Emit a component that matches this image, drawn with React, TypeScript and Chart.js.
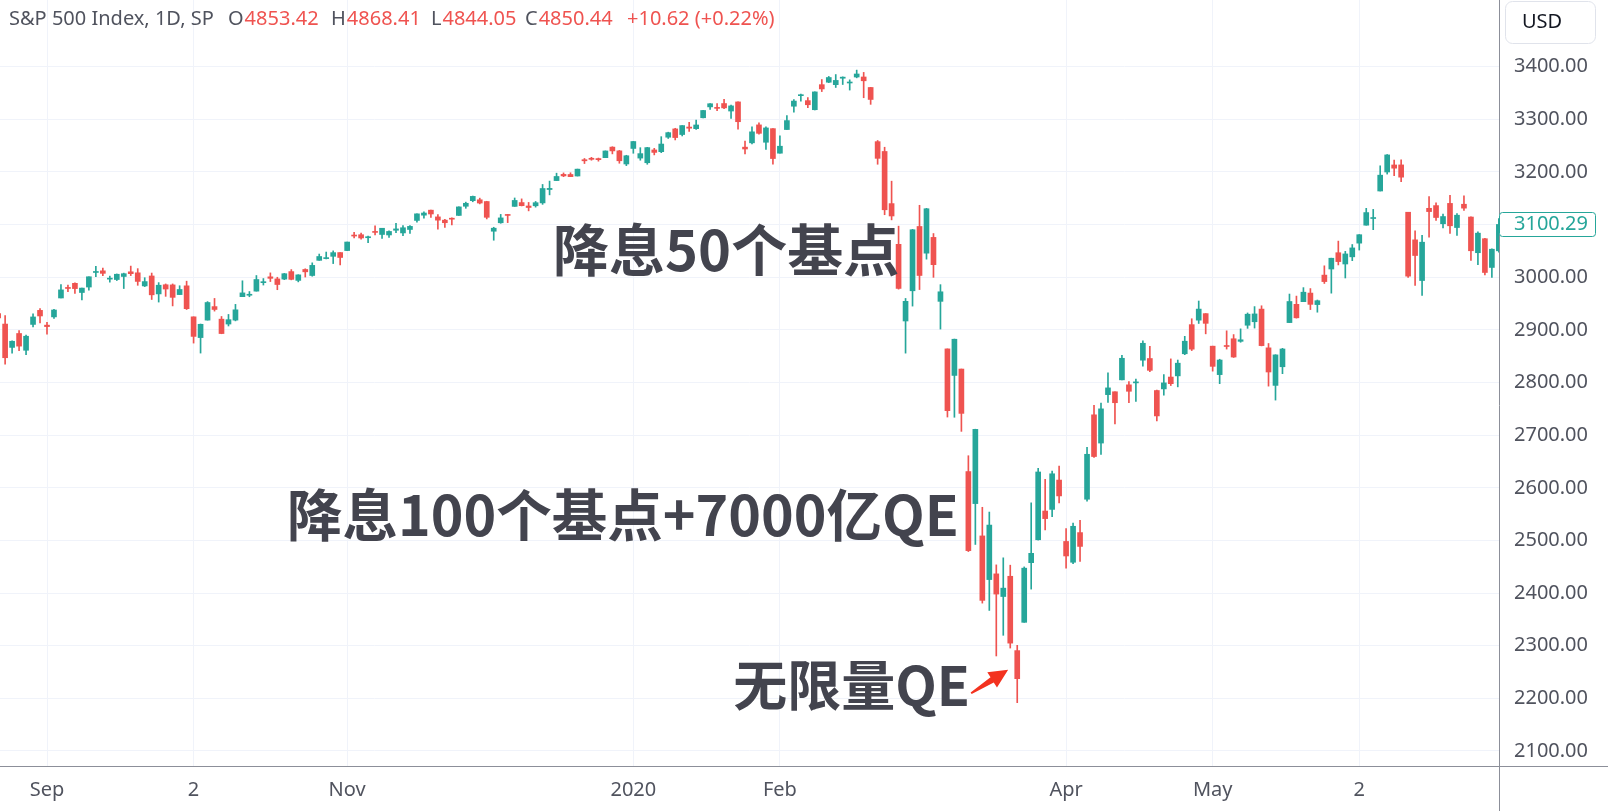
import React, { useEffect, useRef } from 'react';
import { Chart, registerables } from 'chart.js';

Chart.register(...registerables);

// ---------- data ----------
const sessionMonths = ['2019-08', '2019-09', '2019-10', '2019-11', '2019-12', '2020-01', '2020-02', '2020-03', '2020-04', '2020-05', '2020-06'];
const sessionDays = [
  [22, 23, 26, 27, 28, 29, 30],
  [3, 4, 5, 6, 9, 10, 11, 12, 13, 16, 17, 18, 19, 20, 23, 24, 25, 26, 27, 30],
  [1, 2, 3, 4, 7, 8, 9, 10, 11, 14, 15, 16, 17, 18, 21, 22, 23, 24, 25, 28, 29, 30, 31],
  [1, 4, 5, 6, 7, 8, 11, 12, 13, 14, 15, 18, 19, 20, 21, 22, 25, 26, 27, 29],
  [2, 3, 4, 5, 6, 9, 10, 11, 12, 13, 16, 17, 18, 19, 20, 23, 24, 26, 27, 30, 31],
  [2, 3, 6, 7, 8, 9, 10, 13, 14, 15, 16, 17, 21, 22, 23, 24, 27, 28, 29, 30, 31],
  [3, 4, 5, 6, 7, 10, 11, 12, 13, 14, 18, 19, 20, 21, 24, 25, 26, 27, 28],
  [2, 3, 4, 5, 6, 9, 10, 11, 12, 13, 16, 17, 18, 19, 20, 23, 24, 25, 26, 27, 30, 31],
  [1, 2, 3, 6, 7, 8, 9, 13, 14, 15, 16, 17, 20, 21, 22, 23, 24, 27, 28, 29, 30],
  [1, 4, 5, 6, 7, 8, 11, 12, 13, 14, 15, 18, 19, 20, 21, 22, 26, 27, 28, 29],
  [1, 2, 3, 4, 5, 8, 9, 10, 11, 12, 15, 16, 17, 18, 19, 22, 23, 24, 25, 26, 29, 30],
];
const dates: string[] = sessionMonths.flatMap((m, i) => sessionDays[i].map((d) => `${m}-${String(d).padStart(2, '0')}`));

const opens = [
  2930.94, 2911.07, 2866.70, 2893.14, 2861.28, 2910.37, 2937.09,
  2909.01, 2924.67, 2960.60, 2980.33, 2988.43, 2971.01, 2981.41, 3009.08, 3012.21, 2996.41, 2995.67, 3001.50, 3010.36, 3008.42, 2983.50, 3002.43, 2968.35, 2985.73, 2985.47, 2967.07,
  2983.69, 2924.78, 2885.38, 2918.56, 2944.23, 2920.40, 2911.10, 2918.55, 2963.07, 2965.81, 2973.61, 2989.68, 3000.77, 2996.84, 2996.48, 3010.73, 2994.01, 3014.78, 3003.32, 3032.12, 3035.39, 3039.74, 3046.90,
  3050.72, 3078.96, 3080.80, 3075.10, 3087.02, 3081.25, 3080.33, 3089.28, 3084.18, 3090.75, 3107.92, 3117.91, 3127.45, 3114.66, 3108.49, 3111.41, 3117.44, 3134.85, 3145.49, 3147.18,
  3143.85, 3087.41, 3103.50, 3119.21, 3134.62, 3141.86, 3135.36, 3135.75, 3141.23, 3166.65, 3183.63, 3195.40, 3195.21, 3192.32, 3223.33, 3226.05, 3225.45, 3227.20, 3247.23, 3240.09, 3215.18,
  3244.67, 3226.36, 3217.55, 3241.86, 3238.59, 3266.03, 3281.81, 3271.13, 3285.35, 3282.27, 3302.97, 3323.66, 3321.03, 3330.02, 3315.77, 3333.10, 3247.16, 3255.35, 3289.46, 3256.45, 3282.33,
  3235.66, 3280.61, 3324.91, 3344.92, 3335.54, 3318.28, 3365.87, 3370.50, 3365.90, 3378.08, 3369.04, 3380.39, 3380.45, 3360.50, 3257.61, 3238.94, 3139.90, 3062.54, 2916.90,
  2974.28, 3096.46, 3045.75, 3075.70, 2954.20, 2863.89, 2813.48, 2825.60, 2630.86, 2569.99, 2508.59, 2425.66, 2436.50, 2393.48, 2431.94, 2290.71, 2344.44, 2457.77, 2501.29, 2555.87, 2558.98, 2614.69,
  2498.08, 2458.54, 2514.92, 2578.28, 2738.65, 2685.00, 2776.99, 2782.46, 2805.10, 2795.64, 2799.34, 2842.43, 2845.62, 2784.81, 2787.89, 2810.42, 2812.64, 2854.65, 2909.96, 2918.46, 2930.91,
  2869.09, 2815.01, 2868.88, 2883.14, 2878.26, 2908.83, 2915.46, 2939.50, 2865.86, 2794.54, 2829.95, 2913.86, 2948.59, 2953.63, 2969.95, 2948.05, 3004.08, 3015.65, 3046.61, 3025.17,
  3038.78, 3064.78, 3098.90, 3111.56, 3163.84, 3199.92, 3213.32, 3213.42, 3123.53, 3071.04, 2993.76, 3131.00, 3136.13, 3101.64, 3140.29, 3094.42, 3138.70, 3114.40, 3046.60, 3073.20, 3018.59, 3050.20,
];
const highs = [
  2939.08, 2927.01, 2879.27, 2898.79, 2890.03, 2930.50, 2940.43,
  2914.39, 2938.84, 2985.86, 2985.03, 2989.43, 2979.39, 3000.93, 3020.74, 3017.33, 3002.19, 3006.21, 3007.83, 3021.19, 3016.37, 2999.15, 3007.98, 2989.82, 2987.28, 2987.31, 2983.85,
  2992.53, 2924.78, 2911.13, 2953.74, 2959.75, 2925.47, 2929.32, 2948.46, 2993.28, 2972.84, 3003.28, 2997.54, 3008.29, 3000.00, 3007.33, 3014.57, 3004.78, 3016.07, 3027.39, 3044.08, 3047.87, 3050.10, 3046.90,
  3066.95, 3085.20, 3083.95, 3078.34, 3097.77, 3093.09, 3088.33, 3102.61, 3098.06, 3098.20, 3120.46, 3124.17, 3127.64, 3118.97, 3110.11, 3112.87, 3133.83, 3142.69, 3154.26, 3150.30,
  3144.31, 3094.97, 3119.38, 3119.45, 3150.60, 3148.87, 3142.12, 3143.98, 3176.28, 3182.68, 3197.71, 3198.22, 3198.48, 3205.48, 3225.65, 3227.78, 3226.43, 3240.08, 3247.93, 3240.92, 3231.72,
  3258.14, 3246.15, 3246.84, 3244.91, 3267.07, 3275.58, 3282.99, 3288.13, 3294.25, 3298.66, 3317.11, 3329.88, 3329.79, 3337.77, 3326.88, 3333.18, 3258.85, 3285.78, 3293.47, 3285.91, 3282.33,
  3268.44, 3306.92, 3337.58, 3347.96, 3341.42, 3352.26, 3375.63, 3381.47, 3385.09, 3380.69, 3375.01, 3393.52, 3389.15, 3360.76, 3259.81, 3246.99, 3182.51, 3097.07, 2959.72,
  3090.96, 3136.72, 3130.97, 3083.04, 2985.93, 2863.89, 2882.59, 2825.60, 2660.95, 2711.33, 2562.98, 2553.93, 2453.57, 2466.97, 2453.01, 2300.73, 2449.71, 2571.42, 2637.01, 2615.91, 2631.80, 2641.39,
  2522.75, 2533.22, 2538.18, 2676.85, 2756.89, 2760.75, 2818.57, 2782.46, 2851.85, 2801.88, 2806.51, 2879.22, 2868.98, 2785.54, 2815.10, 2844.90, 2842.71, 2887.72, 2921.15, 2954.86, 2930.91,
  2869.09, 2844.24, 2898.23, 2891.11, 2901.92, 2932.16, 2944.25, 2945.82, 2874.14, 2852.80, 2865.01, 2968.09, 2964.21, 2980.29, 2978.50, 2956.76, 3021.72, 3036.25, 3068.67, 3049.17,
  3062.18, 3081.07, 3130.94, 3128.91, 3211.72, 3233.13, 3222.71, 3223.27, 3123.53, 3088.42, 3079.76, 3153.45, 3141.16, 3120.00, 3155.53, 3120.92, 3154.90, 3115.01, 3086.25, 3073.73, 3053.89, 3111.51,
];
const lows = [
  2904.51, 2834.97, 2856.00, 2860.59, 2853.05, 2905.67, 2913.32,
  2891.85, 2921.86, 2960.60, 2972.51, 2969.39, 2957.01, 2975.31, 3000.92, 3002.90, 2990.67, 2993.73, 2978.57, 3003.16, 2984.68, 2982.23, 2957.73, 2952.86, 2963.71, 2945.53, 2967.07,
  2938.70, 2874.93, 2855.94, 2918.56, 2935.68, 2892.66, 2907.41, 2917.12, 2963.07, 2962.94, 2973.61, 2985.20, 2991.79, 2976.31, 2995.35, 2995.04, 2991.21, 3000.42, 3001.94, 3032.12, 3034.81, 3025.96, 3023.19,
  3050.72, 3074.87, 3072.15, 3065.89, 3080.23, 3073.58, 3075.82, 3084.73, 3078.80, 3083.26, 3104.60, 3112.06, 3113.47, 3091.41, 3094.55, 3099.26, 3117.44, 3131.00, 3143.41, 3139.34,
  3110.78, 3070.33, 3102.53, 3103.76, 3134.62, 3135.46, 3126.09, 3133.21, 3138.47, 3156.51, 3183.63, 3191.03, 3191.14, 3192.32, 3216.03, 3222.30, 3220.51, 3227.20, 3234.37, 3216.57, 3212.03,
  3235.53, 3222.34, 3214.64, 3232.43, 3236.67, 3263.67, 3260.86, 3268.43, 3277.19, 3280.69, 3302.82, 3318.86, 3316.61, 3320.04, 3301.87, 3281.53, 3234.50, 3253.22, 3271.89, 3242.80, 3214.68,
  3235.66, 3280.61, 3313.75, 3334.39, 3322.12, 3317.77, 3352.72, 3369.72, 3360.52, 3366.15, 3355.61, 3378.83, 3341.02, 3328.45, 3214.65, 3118.77, 3108.99, 2977.39, 2855.84,
  2945.19, 2976.63, 3034.38, 2999.83, 2901.54, 2734.43, 2734.00, 2707.22, 2478.86, 2492.37, 2380.94, 2367.04, 2280.52, 2319.78, 2295.56, 2191.86, 2344.44, 2407.53, 2500.72, 2520.02, 2545.28, 2571.15,
  2447.49, 2455.79, 2459.96, 2574.57, 2657.67, 2663.30, 2762.36, 2721.17, 2805.10, 2761.54, 2764.32, 2830.88, 2820.43, 2727.10, 2775.95, 2794.26, 2791.76, 2852.89, 2860.71, 2912.16, 2892.47,
  2821.61, 2797.85, 2863.55, 2847.65, 2876.48, 2902.88, 2903.44, 2869.59, 2793.15, 2766.64, 2816.78, 2913.86, 2922.35, 2953.63, 2938.57, 2933.59, 2988.17, 2969.75, 3023.40, 2998.61,
  3031.54, 3051.64, 3098.90, 3090.41, 3163.84, 3196.00, 3193.11, 3181.49, 2999.49, 2984.47, 2965.66, 3076.06, 3108.03, 3093.51, 3083.11, 3079.39, 3127.12, 3032.13, 3024.01, 3004.63, 2999.74, 3047.83,
];
const closes = [
  2922.95, 2847.11, 2878.38, 2869.16, 2887.94, 2924.58, 2926.46,
  2906.27, 2937.78, 2976.00, 2978.71, 2978.43, 2979.39, 3000.93, 3009.57, 3007.39, 2997.96, 3005.70, 3006.73, 3006.79, 2992.07, 2991.78, 2966.60, 2984.87, 2977.62, 2961.79, 2976.74,
  2940.25, 2887.61, 2910.63, 2952.01, 2938.79, 2893.06, 2919.40, 2938.13, 2970.27, 2966.15, 2995.68, 2989.69, 2997.95, 2986.20, 3006.72, 2995.99, 3004.52, 3010.29, 3022.55, 3039.42, 3036.89, 3046.77, 3037.56,
  3066.91, 3078.27, 3074.62, 3076.78, 3085.18, 3093.08, 3087.01, 3091.84, 3094.04, 3096.63, 3120.46, 3122.03, 3120.18, 3108.46, 3103.54, 3110.29, 3133.64, 3140.52, 3153.63, 3140.98,
  3113.87, 3093.20, 3112.76, 3117.43, 3145.91, 3135.96, 3132.52, 3141.63, 3168.57, 3168.80, 3191.45, 3192.52, 3191.14, 3205.37, 3221.22, 3224.01, 3223.38, 3239.91, 3240.02, 3221.29, 3230.78,
  3257.85, 3234.85, 3246.28, 3237.18, 3253.05, 3274.70, 3265.35, 3288.13, 3283.15, 3289.29, 3316.81, 3329.62, 3320.79, 3321.75, 3325.54, 3295.47, 3243.63, 3276.24, 3273.40, 3283.66, 3225.52,
  3248.92, 3297.59, 3334.69, 3345.78, 3327.71, 3352.09, 3357.75, 3379.45, 3373.94, 3380.16, 3370.29, 3386.15, 3373.23, 3337.75, 3225.89, 3128.21, 3116.39, 2978.76, 2954.22,
  3090.23, 3003.37, 3130.12, 3023.94, 2972.37, 2746.56, 2882.23, 2741.38, 2480.64, 2711.02, 2386.13, 2529.19, 2398.10, 2409.39, 2304.92, 2237.40, 2447.33, 2475.56, 2630.07, 2541.47, 2626.65, 2584.59,
  2470.50, 2526.90, 2488.65, 2663.68, 2659.41, 2749.98, 2789.82, 2761.63, 2846.06, 2783.36, 2799.55, 2874.56, 2823.16, 2736.56, 2799.31, 2797.80, 2836.74, 2878.48, 2863.39, 2939.51, 2912.43,
  2830.71, 2842.74, 2868.44, 2848.42, 2881.19, 2929.80, 2930.32, 2870.12, 2820.00, 2852.50, 2863.70, 2953.91, 2922.94, 2971.61, 2948.51, 2955.45, 2991.77, 3036.13, 3029.73, 3044.31,
  3055.73, 3080.82, 3122.87, 3112.35, 3193.93, 3232.39, 3207.18, 3190.14, 3002.10, 3041.31, 3066.59, 3124.74, 3113.49, 3115.34, 3097.74, 3117.86, 3131.29, 3050.33, 3083.76, 3009.05, 3053.24, 3100.29,
];

const priceTicks = [2100, 2200, 2300, 2400, 2500, 2600, 2700, 2800, 2900, 3000, 3100, 3200, 3300, 3400];
const timeTickDates = ['2019-09-03', '2019-10-02', '2019-11-01', '2020-01-02', '2020-02-03', '2020-04-01', '2020-05-01', '2020-06-02'];
const timeTickLabels = ['Sep', '2', 'Nov', '2020', 'Feb', 'Apr', 'May', '2'];

const legendTitle = 'S&P 500 Index, 1D, SP';
const legendKeys = ['O', 'H', 'L', 'C'];
const legendValues = ['4853.42', '4868.41', '4844.05', '4850.44'];
const legendChange = '+10.62 (+0.22%)';
const currency = 'USD';
const lastPrice = 3100.29;

const noteTexts = ['降息50个基点', '降息100个基点+7000亿QE', '无限量QE'];

// ---------- style / layout ----------
const UP = '#26a69a';
const DOWN = '#ef5350';
const GRID = '#f0f3fa';
const TEXT = '#50535e';
const AXIS_LINE = '#8c8f99';
const NOTE_COLOR = '#43444e';
const ARROW_COLOR = '#f3321f';
const UI_FONT = '"Noto Sans", "Open Sans", sans-serif';

const viewMin = 0.2665;
const viewMax = 215.02;
const priceMin = 2071.5;
const priceMax = 3526.7;

// annotation anchors (bar index, price) + font size
const noteLayout = [
  { at: 79.5, price: 3052, size: 56 },
  { at: 41.4, price: 2549, size: 55.5 },
  { at: 105.3, price: 2224, size: 54 },
];
const arrowLayout = { from: [139.4, 2209.7], to: [144.7, 2254.5] };
const legendX = [228, 331, 431, 525];
const legendChangeX = 627;

const candleColors = closes.map((c, i) => (c >= opens[i] ? UP : DOWN));

const overlayPlugin = {
  id: 'overlay',
  afterDraw(chart: any) {
    const { ctx, chartArea, scales } = chart;
    const xs = scales.x;
    const ys = scales.y;
    ctx.save();

    // frame lines
    ctx.strokeStyle = AXIS_LINE;
    ctx.lineWidth = 1;
    ctx.beginPath();
    ctx.moveTo(Math.round(chartArea.right) + 0.5, 0);
    ctx.lineTo(Math.round(chartArea.right) + 0.5, chart.height);
    ctx.moveTo(0, Math.round(chartArea.bottom) + 0.5);
    ctx.lineTo(chart.width, Math.round(chartArea.bottom) + 0.5);
    ctx.stroke();

    // legend
    ctx.font = `20px ${UI_FONT}`;
    ctx.textBaseline = 'middle';
    ctx.textAlign = 'left';
    ctx.fillStyle = TEXT;
    ctx.fillText(legendTitle, 9, 19);
    legendKeys.forEach((k, i) => {
      ctx.fillStyle = TEXT;
      ctx.fillText(k, legendX[i], 19);
      const w = ctx.measureText(k).width;
      ctx.fillStyle = DOWN;
      ctx.fillText(legendValues[i], legendX[i] + w + 1, 19);
    });
    ctx.fillStyle = DOWN;
    ctx.fillText(legendChange, legendChangeX, 19);

    // currency box
    ctx.fillStyle = '#ffffff';
    ctx.strokeStyle = '#e0e3eb';
    ctx.beginPath();
    ctx.roundRect(1505.5, 1.5, 90, 42, 7);
    ctx.fill();
    ctx.stroke();
    ctx.fillStyle = '#131722';
    ctx.fillText(currency, 1522, 22);

    // last price label
    const py = ys.getPixelForValue(lastPrice);
    ctx.fillStyle = '#ffffff';
    ctx.strokeStyle = UP;
    ctx.beginPath();
    ctx.roundRect(Math.round(chartArea.right) + 0.5, Math.round(py - 12.5) + 0.5, 96, 24, 3);
    ctx.fill();
    ctx.stroke();
    ctx.fillStyle = UP;
    ctx.fillText(lastPrice.toFixed(2), 1514, py);

    // annotations
    ctx.fillStyle = NOTE_COLOR;
    noteTexts.forEach((t, i) => {
      const n = noteLayout[i];
      ctx.font = `bold ${n.size}px "Noto Sans CJK SC"`;
      ctx.fillText(t, xs.getPixelForValue(n.at), ys.getPixelForValue(n.price));
    });

    // arrow
    const x1 = xs.getPixelForValue(arrowLayout.from[0]);
    const y1 = ys.getPixelForValue(arrowLayout.from[1]);
    const x2 = xs.getPixelForValue(arrowLayout.to[0]);
    const y2 = ys.getPixelForValue(arrowLayout.to[1]);
    const dx = x2 - x1, dy = y2 - y1;
    const len = Math.hypot(dx, dy);
    const ux = dx / len, uy = dy / len;
    const px = -uy, py2 = ux;
    const headLen = 19, headHalf = 9, tailHalf = 1, neckHalf = 3;
    const bx = x2 - ux * headLen, by = y2 - uy * headLen;
    ctx.fillStyle = ARROW_COLOR;
    ctx.beginPath();
    ctx.moveTo(x1 + px * tailHalf, y1 + py2 * tailHalf);
    ctx.lineTo(bx + px * neckHalf, by + py2 * neckHalf);
    ctx.lineTo(bx + px * headHalf, by + py2 * headHalf);
    ctx.lineTo(x2, y2);
    ctx.lineTo(bx - px * headHalf, by - py2 * headHalf);
    ctx.lineTo(bx - px * neckHalf, by - py2 * neckHalf);
    ctx.lineTo(x1 - px * tailHalf, y1 - py2 * tailHalf);
    ctx.closePath();
    ctx.fill();

    ctx.restore();
  },
};

export default function App() {
  const canvasRef = useRef<HTMLCanvasElement>(null);

  useEffect(() => {
    if (!canvasRef.current) return;
    const chart = new Chart(canvasRef.current, {
      type: 'bar',
      data: {
        datasets: [
          {
            label: 'body',
            data: dates.map((_, i) => ({ x: i, y: [opens[i], closes[i]] })) as any,
            backgroundColor: candleColors,
            borderWidth: 0,
            barThickness: 5,
            minBarLength: 1,
            grouped: false,
            clip: 0,
          },
          {
            label: 'wick',
            data: dates.map((_, i) => ({ x: i, y: [lows[i], highs[i]] })) as any,
            backgroundColor: candleColors,
            borderWidth: 0,
            barThickness: 1,
            minBarLength: 1,
            grouped: false,
            clip: 0,
          },
        ],
      },
      options: {
        responsive: true,
        maintainAspectRatio: false,
        animation: false,
        devicePixelRatio: 1,
        events: [],
        layout: { padding: 0, autoPadding: false },
        plugins: {
          legend: { display: false },
          tooltip: { enabled: false },
          title: { display: false },
        },
        scales: {
          x: {
            type: 'linear',
            position: 'bottom',
            min: viewMin,
            max: viewMax,
            offset: false,
            afterBuildTicks: (s: any) => {
              s.ticks = timeTickDates.map((d) => ({ value: dates.indexOf(d) }));
            },
            afterFit: (s: any) => {
              s.height = 45;
              s.paddingLeft = 0;
              s.paddingRight = 0;
            },
            ticks: {
              autoSkip: false,
              maxRotation: 0,
              minRotation: 0,
              padding: 12,
              color: TEXT,
              font: { family: UI_FONT, size: 20 },
              callback: (v: any) => timeTickLabels[timeTickDates.indexOf(dates[Math.round(Number(v))])] ?? '',
            },
            grid: { color: GRID, drawTicks: false, offset: false },
            border: { display: false },
          },
          y: {
            type: 'linear',
            position: 'right',
            min: priceMin,
            max: priceMax,
            afterBuildTicks: (s: any) => {
              s.ticks = priceTicks.map((v) => ({ value: v }));
            },
            afterFit: (s: any) => {
              s.width = 109;
              s.paddingTop = 0;
              s.paddingBottom = 0;
            },
            ticks: {
              padding: 15,
              crossAlign: 'near',
              color: TEXT,
              font: { family: UI_FONT, size: 20 },
              callback: (v: any) => Number(v).toFixed(2),
            },
            grid: { color: GRID, drawTicks: false },
            border: { display: false },
          },
        },
      } as any,
      plugins: [overlayPlugin],
    });
    return () => chart.destroy();
  }, []);

  return (
    <div style={{ position: 'absolute', left: 0, top: 0, width: 1608, height: 811, background: '#ffffff' }}>
      <canvas ref={canvasRef} />
    </div>
  );
}
